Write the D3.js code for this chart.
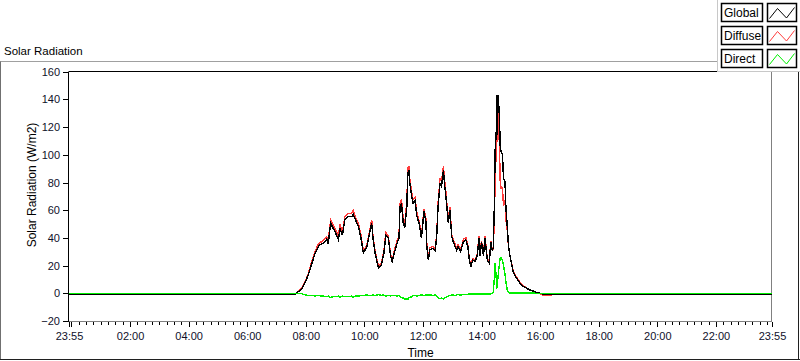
<!DOCTYPE html>
<html>
<head>
<meta charset="utf-8">
<script src="https://cdn.jsdelivr.net/npm/d3@7"></script>
<style>
  body { margin: 0; background: #fff; }
  svg { display: block; font-family: "Liberation Sans", Arial, sans-serif; }
</style>
</head>
<body>
<svg id="chart"></svg>
<script>
// sample times (first one is 23:55 of the previous day)
const times = [
  "23:55", "07:38",
  "07:45", "07:52", "07:58",
  "08:05", "08:12", "08:19", "08:26", "08:31", "08:36", "08:43", "08:46", "08:51", "08:56",
  "09:00", "09:07", "09:10", "09:15", "09:20", "09:27", "09:34", "09:37", "09:42", "09:48", "09:53", "09:58",
  "10:05", "10:10", "10:15", "10:18", "10:22", "10:29", "10:35", "10:40", "10:44", "10:49", "10:54", "10:57",
  "11:03", "11:07", "11:11", "11:13", "11:16", "11:20", "11:23", "11:27", "11:29", "11:31", "11:33", "11:37", "11:40", "11:44", "11:47", "11:52", "11:57",
  "12:02", "12:06", "12:08", "12:11", "12:14", "12:21", "12:25", "12:28", "12:31", "12:35", "12:38", "12:42", "12:44", "12:47", "12:52", "12:55", "12:59",
  "13:02", "13:06", "13:09", "13:12", "13:17", "13:23", "13:28", "13:32", "13:35", "13:38", "13:42", "13:47", "13:51", "13:55", "13:57",
  "14:00", "14:04", "14:07", "14:12", "14:16", "14:19", "14:22", "14:24", "14:26", "14:28", "14:30", "14:31", "14:32", "14:34", "14:37", "14:38", "14:40", "14:43", "14:45", "14:48", "14:50", "14:53", "14:55", "14:58",
  "15:02", "15:05", "15:12", "15:19", "15:26", "15:39", "15:53", "16:07", "16:40", "23:55"
];

const globalValues = [
  -0.8, -0.8,
  1.2, 3.5, 7.2,
  13, 21, 29, 34, 35.5, 36, 39, 36, 50.6, 47,
  44.5, 38.5, 47, 42, 53, 55.4, 55.4, 57, 53, 48, 40, 29,
  33.7, 42, 50.6, 38.5, 29, 18, 20.5, 29, 42, 39.8, 26.5, 22.9,
  31.3, 36.1, 39.8, 62.6, 65, 49.4, 48, 62.6, 86.8, 89, 79.5, 70, 65, 67, 56.6, 50.6, 39.8,
  59, 51.8, 33.7, 24, 31.3, 32.5, 31, 39.8, 62.6, 79.5, 77, 89, 79.5, 70, 50.6, 60, 41,
  37.3, 33.7, 31, 33.7, 30, 37.3, 38.5, 33.7, 24, 19.2, 24, 23, 27, 39.8, 27,
  37, 27, 39.8, 24, 21.7, 37, 31, 32.5, 60, 104, 114, 143, 114, 143, 126, 107, 102, 100, 83, 81, 61.5, 47, 35, 27.7,
  20.5, 15.6, 10.8, 7.2, 4.8, 2.4, 0.7, -0.6, -0.8, -0.8
];

const diffuseValues = [
  -0.8, -0.8,
  1.3, 3.8, 7.8,
  14, 22.5, 30.5, 35.5, 37, 38, 41, 38, 53, 49.5,
  47, 41, 50, 44, 55, 57.5, 57.5, 60, 55, 50, 42, 30.5,
  35, 43.5, 53, 40, 30.5, 19.5, 22, 30.5, 44, 41.5, 28, 24,
  33, 38, 41.5, 65, 68, 52, 51, 66, 90, 92, 83, 73, 67.5, 69, 59, 52.5, 41.5,
  61, 54, 35.5, 25.5, 33, 34, 32.5, 41.5, 65, 83, 80.5, 92, 83, 73, 53, 62.5, 42.5,
  39, 35.5, 32.5, 35, 31.5, 39, 40, 35, 25, 20.5, 25, 24, 28, 41, 28,
  38, 28, 41, 25, 22.5, 38, 31.5, 32, 50, 82, 102, 140, 109, 130, 104, 82, 76, 76, 63, 67, 53.5, 45, 35, 27.5,
  20.8, 16, 11.5, 7.8, 5.2, 2.6, 0.6, -1.4, -0.8, -0.8
];

const directValues = [
  0, 0,
  0, -0.3, -1,
  -1.5, -1.5, -2, -1.5, -2, -2, -2.5, -2, -3, -2.5,
  -2.5, -2, -3, -2, -2.5, -2.5, -2, -3, -2, -2, -1.5, -1.5,
  -1.2, -1.5, -1.5, -1.2, -1.5, -1, -1.5, -1.2, -2, -1.5, -2, -1.5,
  -1.5, -2, -1.5, -2.5, -3, -3.5, -4.3, -4, -4.5, -3.5, -3, -2.5, -1.5, -1.5, -2, -1.5, -1.2,
  -1.5, -1.2, -1.5, -1.2, -1.2, -1.5, -1.2, -2, -3, -4, -3.5, -4, -3.5, -3, -2, -1.5, -1.2,
  -1.2, -1.5, -1.2, -1, -1.2, -1, -1, -0.8, -0.5, -0.5, -0.5, -0.5, -0.5, -0.5, -0.5,
  -0.5, -0.5, -0.5, -0.5, -0.5, -0.5, 0, 0.5, 10, 22, 12, 3, 5, 13, 22, 25, 26, 24, 20, 14, 8, 2, 0.5, 0.3,
  0.3, 0.3, 0.3, 0.3, 0.3, 0.3, 0, 0, 0, 0
];

const yTicks = [-20, 0, 20, 40, 60, 80, 100, 120, 140, 160];
const seriesNames = ["Global", "Diffuse", "Direct"];
const seriesColours = { Global: "#000000", Diffuse: "#ff3c3c", Direct: "#00f000" };

const width = 800;
const height = 361;
const plot = { left: 69, right: 772, top: 71.7, bottom: 321 };

const toDate = (s, i) => {
  const [h, m] = s.split(":").map(Number);
  return new Date(2000, 0, (i === 0 && h === 23) ? 1 : 2, h, m);
};
const tStart = new Date(2000, 0, 1, 23, 55);
const tEnd = new Date(2000, 0, 2, 23, 55);

const svg = d3.select("#chart").attr("width", width).attr("height", height);

/// Scales ///
const xScale = d3.scaleTime().domain([tStart, tEnd]).range([plot.left, plot.right]);
const yScale = d3.scaleLinear().domain([-20, 160]).range([plot.bottom, plot.top]);

/// outer panel ///
svg.append("line").attr("x1", 0).attr("x2", 718).attr("y1", 61.5).attr("y2", 61.5).attr("stroke", "#a0a0a0");
svg.append("line").attr("x1", 0.5).attr("x2", 0.5).attr("y1", 61.5).attr("y2", 360).attr("stroke", "#707070");
svg.append("line").attr("x1", 0).attr("x2", 800).attr("y1", 359.5).attr("y2", 359.5).attr("stroke", "#202020");
svg.append("line").attr("x1", 798.5).attr("x2", 798.5).attr("y1", 70).attr("y2", 360).attr("stroke", "#202020");

svg.append("text")
  .attr("x", 4).attr("y", 55)
  .attr("font-size", "11.5px").attr("fill", "#000")
  .text("Solar Radiation");

/// plot frame ///
svg.append("line").attr("x1", plot.left).attr("x2", plot.right).attr("y1", 71.5).attr("y2", 71.5).attr("stroke", "#000");
svg.append("line").attr("x1", plot.right - 0.5).attr("x2", plot.right - 0.5).attr("y1", 71.5).attr("y2", plot.bottom + 0.5).attr("stroke", "#808080");
svg.append("line").attr("x1", plot.left).attr("x2", plot.right).attr("y1", plot.bottom + 0.5).attr("y2", plot.bottom + 0.5).attr("stroke", "#808080");
svg.append("line").attr("x1", plot.left - 0.5).attr("x2", plot.left - 0.5).attr("y1", 71.5).attr("y2", plot.bottom + 1).attr("stroke", "#000");

/// Axes ///
const minorTicks = d3.timeMinute.every(15).range(tStart, tEnd).filter(d => d.getMinutes() !== 0 || d.getHours() % 2 !== 0);
const majorTicks = [tStart].concat(d3.timeHour.every(2).range(tStart, tEnd)).concat([tEnd]);
const fmt = d3.timeFormat("%H:%M");

const xMinor = svg.append("g")
  .attr("transform", `translate(0, ${plot.bottom + 1})`)
  .call(d3.axisBottom(xScale).tickValues(minorTicks).tickSize(3).tickFormat(""));
xMinor.select(".domain").remove();

const xMajor = svg.append("g")
  .attr("transform", `translate(0, ${plot.bottom + 1})`)
  .call(d3.axisBottom(xScale)
    .tickValues(majorTicks)
    .tickSize(5)
    .tickPadding(5)
    .tickFormat(d => (d.getHours() === 0 && d.getMinutes() === 0) ? "" : fmt(d)));
xMajor.select(".domain").remove();

const yAxis = svg.append("g")
  .attr("transform", `translate(${plot.left - 1}, 0)`)
  .call(d3.axisLeft(yScale).tickValues(yTicks).tickSize(5).tickPadding(3).tickFormat(d3.format("d")));
yAxis.select(".domain").remove();

svg.selectAll(".tick line").attr("stroke", "#000").attr("shape-rendering", "crispEdges");
svg.selectAll(".tick text")
  .attr("font-size", "11px")
  .attr("font-family", "'Liberation Sans', Arial, sans-serif")
  .attr("fill", "#10102a");

svg.append("text")
  .attr("x", (plot.left + plot.right) / 2).attr("y", 357)
  .attr("text-anchor", "middle").attr("font-size", "12px")
  .text("Time");

svg.append("text")
  .attr("transform", `translate(36, 185) rotate(-90)`)
  .attr("text-anchor", "middle").attr("font-size", "12px")
  .text("Solar Radiation (W/m2)");

/// Lines ///
const rows = times.map((t, i) => ({
  time: toDate(t, i),
  Global: globalValues[i],
  Diffuse: diffuseValues[i],
  Direct: directValues[i]
}));

// drawn without anti-aliasing, like the original instrument display
const linesG = svg.append("g").attr("shape-rendering", "crispEdges");
["Diffuse", "Global", "Direct"].forEach(name => {
  const line = d3.line()
    .x(d => xScale(d.time))
    .y(d => yScale(d[name]));
  linesG.append("path")
    .datum(rows)
    .attr("d", line)
    .attr("fill", "none")
    .attr("stroke", seriesColours[name])
    .attr("stroke-width", 1.4)
    .attr("stroke-linejoin", "miter");
});

/// Legend ///
const legendG = svg.append("g");
legendG.append("rect")
  .attr("x", 717.5).attr("y", -1).attr("width", 84).attr("height", 72.5)
  .attr("fill", "#fff").attr("stroke", "#c8c8c8");

seriesNames.forEach((name, i) => {
  const top = 3.5 + i * 23;
  legendG.append("rect")
    .attr("x", 721.5).attr("y", top).attr("width", 41).attr("height", 18)
    .attr("fill", "#fff").attr("stroke", "#000").attr("stroke-width", 1.5);
  legendG.append("text")
    .attr("x", 724).attr("y", top + 13.5)
    .attr("font-size", "12px").attr("fill", "#000")
    .text(name);
  legendG.append("rect")
    .attr("x", 767.5).attr("y", top).attr("width", 29).attr("height", 18)
    .attr("fill", "#fff").attr("stroke", "#000").attr("stroke-width", 1.5);
  const sx = 767.5;
  legendG.append("polyline")
    .attr("points", [[sx + 2, top + 15], [sx + 10, top + 5], [sx + 19, top + 14.5], [sx + 27, top + 4]].map(p => p.join(",")).join(" "))
    .attr("fill", "none")
    .attr("stroke", seriesColours[name])
    .attr("stroke-width", 1);
});
</script>
</body>
</html>
